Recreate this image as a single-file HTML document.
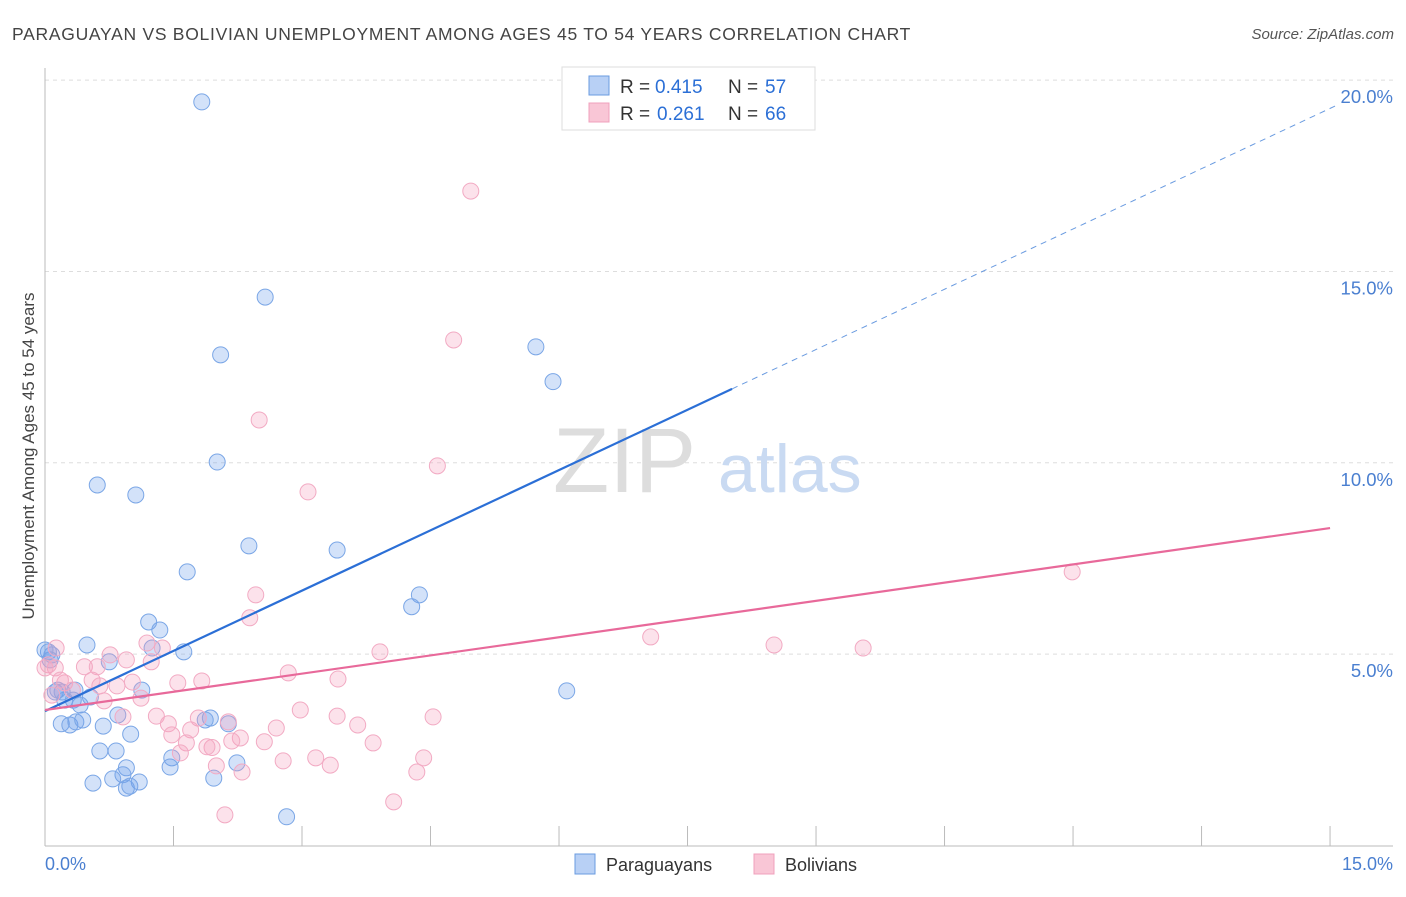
<!DOCTYPE html>
<html><head><meta charset="utf-8"><style>
body{margin:0;background:#fff;font-family:"Liberation Sans",sans-serif}
svg text{font-family:"Liberation Sans",sans-serif}
</style></head><body>
<svg id="chart" width="1406" height="892" xmlns="http://www.w3.org/2000/svg">
<text x="12" y="40" font-size="17.5" fill="#444" letter-spacing="0.72">PARAGUAYAN VS BOLIVIAN UNEMPLOYMENT AMONG AGES 45 TO 54 YEARS CORRELATION CHART</text>
<text x="1394" y="39" font-size="15" fill="#555" text-anchor="end" font-style="italic">Source: ZipAtlas.com</text>
<g id="grid"></g>
<g>
<text x="553" y="492" font-size="92" fill="#ddd" font-family="Liberation Serif,serif">ZIP</text>
<text x="718" y="492" font-size="68" fill="#c9daf2">atlas</text>
</g>
<g id="pts"></g>
<g id="lines"></g>
<text transform="translate(34,456) rotate(-90)" font-size="17" fill="#444" text-anchor="middle">Unemployment Among Ages 45 to 54 years</text>
<text x="45" y="870" font-size="18" fill="#4a7fd0">0.0%</text>
<text x="1393" y="870" font-size="18" fill="#4a7fd0" text-anchor="end">15.0%</text>
<g>
<rect x="562" y="67" width="253" height="63" fill="#fff" stroke="#ddd"/>
<rect x="589" y="76" width="20" height="19" fill="#b8d0f5" stroke="#6a9be0"/>
<rect x="589" y="103" width="20" height="19" fill="#f9c6d6" stroke="#f0a0bc"/>
<text x="620" y="93" font-size="19" fill="#333">R =</text>
<text x="655" y="93" font-size="19" fill="#2b6fd6">0.415</text>
<text x="728" y="93" font-size="19" fill="#333">N =</text>
<text x="765" y="93" font-size="19" fill="#2b6fd6">57</text>
<text x="620" y="120" font-size="19" fill="#333">R =</text>
<text x="657" y="120" font-size="19" fill="#2b6fd6">0.261</text>
<text x="728" y="120" font-size="19" fill="#333">N =</text>
<text x="765" y="120" font-size="19" fill="#2b6fd6">66</text>
</g>
<g>
<rect x="575" y="854" width="20" height="20" fill="#b8d0f5" stroke="#6a9be0"/>
<text x="606" y="871" font-size="18" fill="#333">Paraguayans</text>
<rect x="754" y="854" width="20" height="20" fill="#f9c6d6" stroke="#f0a0bc"/>
<text x="785" y="871" font-size="18" fill="#333">Bolivians</text>
</g>
</svg>
<script>
const yTicks=[5,10,15,20];
const yTickLabels=["5.0%","10.0%","15.0%","20.0%"];
const xTicks=[0,1.5,3,4.5,6,7.5,9,10.5,12,13.5,15];
const blueX=[1.83,2.57,2.05,5.73,5.93,2.01,0.61,1.06,2.38,3.41,1.66,4.37,4.28,1.21,1.34,0.49,1.25,1.62,0.75,0.04,0.06,6.09,0.12,0.20,0.35,0.53,1.13,0.23,0.41,0.85,0.19,0.29,0.36,0.44,0.68,1.00,1.93,1.87,2.14,0.64,0.83,1.48,2.24,0.95,0.91,1.46,0.56,0.79,1.10,0.95,0.99,1.97,2.82,0.15,0.33,0.08,0.0];
const blueY=[19.43,14.33,12.82,13.03,12.12,10.02,9.42,9.16,7.83,7.72,7.15,6.55,6.24,5.84,5.63,5.24,5.16,5.06,4.80,5.06,4.85,4.04,4.01,4.01,4.06,3.88,4.06,3.80,3.67,3.41,3.18,3.15,3.23,3.28,3.12,2.91,3.33,3.28,3.18,2.47,2.47,2.29,2.16,2.03,1.85,2.05,1.63,1.74,1.66,1.50,1.55,1.76,0.75,4.06,3.80,4.98,5.11];
const pinkX=[4.97,4.77,2.50,4.58,3.07,11.99,2.46,2.39,7.07,8.51,9.55,1.19,1.37,3.91,0.76,0.95,1.24,0.46,0.61,2.84,0.04,0.12,3.42,1.55,1.83,0.23,0.55,1.02,0.84,0.64,1.12,0.69,2.98,3.41,4.53,1.30,0.91,1.44,1.79,2.14,3.65,1.70,2.70,1.48,1.65,2.28,2.18,2.56,3.83,1.95,1.89,1.58,3.16,4.42,2.78,3.33,2.00,2.30,4.34,4.07,2.10,0.18,0.32,0.08,0.13,0.0];
const pinkY=[17.10,13.21,11.12,9.92,9.24,7.15,6.55,5.95,5.45,5.24,5.16,5.29,5.16,5.06,4.98,4.85,4.80,4.67,4.67,4.51,4.72,4.64,4.35,4.25,4.30,4.25,4.32,4.27,4.17,4.17,3.85,3.78,3.54,3.38,3.36,3.38,3.36,3.18,3.33,3.23,3.15,3.02,3.07,2.89,2.68,2.81,2.73,2.71,2.68,2.56,2.58,2.42,2.29,2.29,2.21,2.10,2.08,1.92,1.92,1.14,0.80,4.32,4.06,3.93,5.16,4.64];
const blueTrend=[3.51,1.05];
const blueSolidEnd=8.02;
const pinkTrend=[3.54,0.317];
const NS="http://www.w3.org/2000/svg";
const X=v=>45+v*85.67, Y=v=>845.5-v*38.27;
function mk(t,a,p){const e=document.createElementNS(NS,t);for(const k in a)e.setAttribute(k,a[k]);p.appendChild(e);return e;}
const grid=document.getElementById('grid');
yTicks.forEach((t,i)=>{
 const l=mk('line',{x1:45,x2:1393,y1:Y(t),y2:Y(t),stroke:'#ddd','stroke-dasharray':'4,4'},grid);
 
 
 const tx=mk('text',{x:1393,y:Y(t)+23,'font-size':18.5,fill:'#4a7fd0','text-anchor':'end'},grid);
 tx.textContent=yTickLabels[i];
 
 
});
const ax=mk('line',{x1:45,x2:45,y1:68,y2:846,stroke:'#bbb'},grid);


const bx=mk('line',{x1:45,x2:1393,y1:846,y2:846,stroke:'#bbb'},grid);


xTicks.forEach(t=>{
 const l=mk('line',{x1:X(t),x2:X(t),y1:826,y2:846,stroke:'#bbb'},grid);
 
 
});
const pts=document.getElementById('pts');
blueX.forEach((x,i)=>{
 const c=mk('circle',{cx:X(x),cy:Y(blueY[i]),r:8,fill:'rgba(110,160,235,0.3)',stroke:'#7aa6e6','stroke-width':1},pts);
 
 
});
pinkX.forEach((x,i)=>{
 const c=mk('circle',{cx:X(x),cy:Y(pinkY[i]),r:8,fill:'rgba(245,160,190,0.3)',stroke:'#f2aac3','stroke-width':1},pts);
 
 
});
const lines=document.getElementById('lines');
const bl=mk('line',{x1:X(0),y1:Y(blueTrend[0]),x2:X(blueSolidEnd),y2:Y(blueTrend[0]+blueTrend[1]*blueSolidEnd),stroke:'#2b6fd6','stroke-width':2.2},lines);


const bd=mk('line',{x1:X(blueSolidEnd),y1:Y(blueTrend[0]+blueTrend[1]*blueSolidEnd),x2:X(15.06),y2:Y(blueTrend[0]+blueTrend[1]*15.06),stroke:'#6a9be0','stroke-width':1,'stroke-dasharray':'6,5'},lines);


const pl=mk('line',{x1:X(0),y1:Y(pinkTrend[0]),x2:X(15),y2:Y(pinkTrend[0]+pinkTrend[1]*15),stroke:'#e8699a','stroke-width':2.2},lines);


</script>
</body></html>
